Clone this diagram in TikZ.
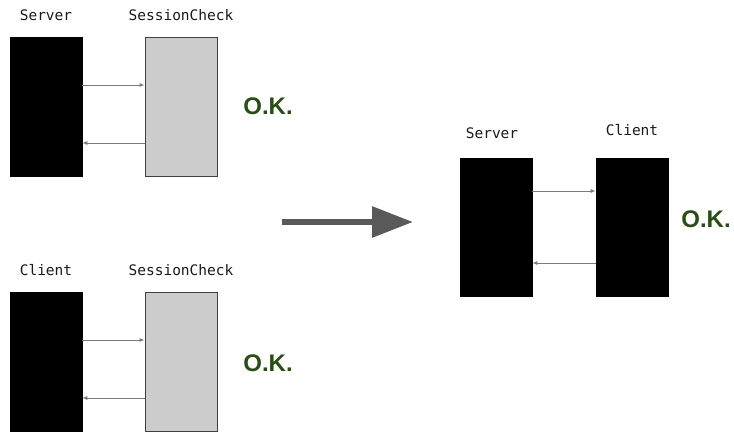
\documentclass[tikz,border=0pt]{standalone}
\usepackage{fontspec}
\setmainfont{Liberation Sans}
\newfontfamily\labelfont{DejaVu Sans Mono}
\usetikzlibrary{arrows.meta}
\definecolor{okgreen}{HTML}{274E13}
\definecolor{boxgray}{HTML}{CCCCCC}
\definecolor{connGray}{HTML}{7A7A7A}
\definecolor{bigGray}{HTML}{595959}
\begin{document}
\begin{tikzpicture}[x=1pt,y=-1pt,
  darkbox/.style={draw=black,fill=black,minimum width=72pt,minimum height=139pt,inner sep=0pt,line width=0.6pt},
  graybox/.style={draw=black!75,fill=boxgray,minimum width=72pt,minimum height=139pt,inner sep=0pt,line width=0.8pt},
  lbl/.style={font=\labelfont\fontsize{14.5}{16}\selectfont,inner sep=0pt,text=black!90},
  ok/.style={font=\bfseries\fontsize{24}{27}\selectfont,text=okgreen,inner sep=0pt},
  conn/.style={draw=connGray,line width=1pt,-{Latex[length=5pt,width=4pt]}},
  bigarrow/.style={draw=bigGray,line width=6pt,-{Triangle[length=41pt,width=30pt]}}
]
\useasboundingbox (0,0) rectangle (734,434);
% top group
\node[darkbox] (sv1) at (46,106.5) {};
\node[graybox] (sc1) at (181,106.5) {};
\node[lbl] (sv1l) at (46,15) {Server};
\node[lbl] (sc1l) at (181,15) {SessionCheck};
\draw[conn] (sv1.east |- 0,85) -- (sc1.west |- 0,85);
\draw[conn] (sc1.west |- 0,143) -- (sv1.east |- 0,143);
\node[ok] (ok1) at (268,106) {O.K.};
% bottom group
\node[darkbox] (cl2) at (46,362) {};
\node[graybox] (sc2) at (181,362) {};
\node[lbl] (cl2l) at (46,270) {Client};
\node[lbl] (sc2l) at (181,270) {SessionCheck};
\draw[conn] (cl2.east |- 0,340) -- (sc2.west |- 0,340);
\draw[conn] (sc2.west |- 0,398) -- (cl2.east |- 0,398);
\node[ok] (ok2) at (268,363) {O.K.};
% big arrow
\coordinate (ba) at (282,222);
\coordinate (bb) at (413,222);
\draw[bigarrow] (ba) -- (bb);
% right group
\node[darkbox,minimum height=138pt] (sv3) at (496,227) {};
\node[darkbox,minimum height=138pt] (cl3) at (632,227) {};
\node[lbl] (sv3l) at (492,133) {Server};
\node[lbl] (cl3l) at (632,130) {Client};
\draw[conn] (sv3.east |- 0,191) -- (cl3.west |- 0,191);
\draw[conn] (cl3.west |- 0,263) -- (sv3.east |- 0,263);
\node[ok] (ok3) at (706,219) {O.K.};
\end{tikzpicture}
\end{document}
